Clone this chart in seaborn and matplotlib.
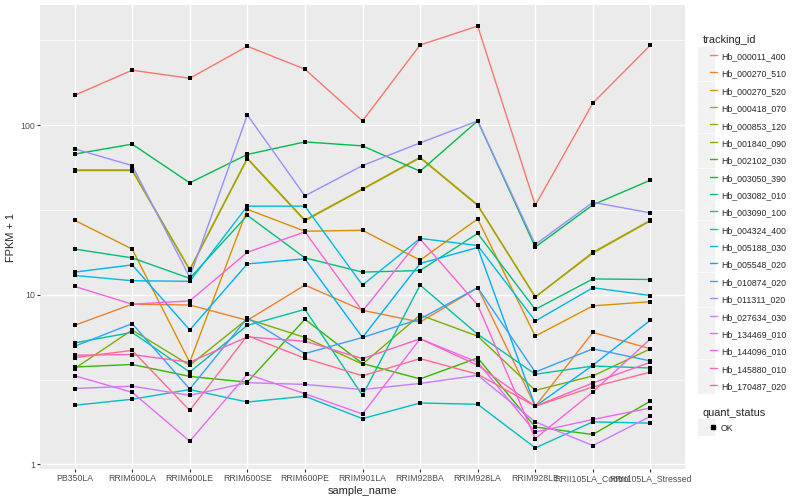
import numpy as np
import pandas as pd
import matplotlib
matplotlib.use("Agg")
import matplotlib.pyplot as plt
import seaborn as sns
from matplotlib.lines import Line2D
from matplotlib.legend_handler import HandlerTuple
from matplotlib.ticker import FixedLocator, NullFormatter

#--------------------------------------------------------------
# 1. Data (FPKM + 1)
#--------------------------------------------------------------
samples = ['PB350LA', 'RRIM600LA', 'RRIM600LE', 'RRIM600SE', 'RRIM600PE',
           'RRIM901LA', 'RRIM928BA', 'RRIM928LA', 'RRIM928LE',
           'RRII105LA_Control', 'RRII105LA_Stressed']

tracking_ids = ['Hb_000011_400', 'Hb_000270_510', 'Hb_000270_520', 'Hb_000418_070',
                'Hb_000853_120', 'Hb_001840_090', 'Hb_002102_030', 'Hb_003050_390',
                'Hb_003082_010', 'Hb_003090_100', 'Hb_004324_400', 'Hb_005188_030',
                'Hb_005548_020', 'Hb_010874_020', 'Hb_011311_020', 'Hb_027634_030',
                'Hb_134469_010', 'Hb_144096_010', 'Hb_145880_010', 'Hb_170487_020']

hb_000011_400 = [150, 211, 189, 292, 214, 106, 297, 384, 33.7, 135, 297]
hb_000270_510 = [6.6, 8.8, 8.7, 7.07, 11.4, 8.1, 6.9, 11.0, 2.2, 6.0, 4.8]
hb_000270_520 = [27.5, 18.6, 4.0, 31.9, 23.7, 24.0, 16.0, 28.0, 5.7, 8.6, 9.1]
hb_000418_070 = [54.5, 54.5, 14.1, 63.9, 27.6, 42.1, 64.7, 33.9, 9.7, 17.8, 27.5]
hb_000853_120 = [54.0, 54.0, 14.0, 63.3, 27.3, 41.8, 64.2, 33.6, 9.7, 17.6, 27.3]
hb_001840_090 = [3.67, 6.2, 3.84, 7.2, 5.6, 3.9, 7.6, 5.7, 2.73, 3.32, 4.8]
hb_002102_030 = [3.75, 3.88, 3.3, 3.05, 7.17, 3.93, 3.19, 4.24, 1.66, 1.5, 2.36]
hb_003050_390 = [67.5, 77.3, 45.7, 67.2, 79.7, 75.5, 53.5, 106, 19.1, 33.9, 47.4]
hb_003082_010 = [18.6, 16.5, 12.5, 29.4, 16.5, 13.6, 13.9, 23.0, 8.2, 12.4, 12.3]
hb_003090_100 = [5.2, 6.0, 3.5, 6.6, 8.2, 2.55, 11.4, 5.85, 3.4, 3.8, 3.7]
hb_004324_400 = [2.23, 2.42, 2.76, 2.33, 2.52, 1.86, 2.3, 2.26, 1.25, 1.78, 1.75]
hb_005188_030 = [13.0, 12.1, 12.0, 33.3, 33.3, 11.4, 21.5, 19.5, 7.0, 11.0, 9.9]
hb_005548_020 = [13.6, 15.0, 6.2, 15.2, 16.3, 5.6, 15.3, 19.0, 2.2, 3.84, 7.08]
hb_010874_020 = [4.97, 6.76, 2.78, 7.3, 4.5, 5.6, 7.2, 11.0, 3.5, 4.8, 4.07]
hb_011311_020 = [72.5, 57.8, 12.7, 115, 38.3, 57.8, 78.6, 106, 19.8, 35.1, 30.4]
hb_027634_030 = [2.8, 2.89, 2.55, 3.03, 2.96, 2.76, 3.0, 3.35, 1.78, 1.29, 1.92]
hb_134469_010 = [3.33, 2.66, 1.37, 3.4, 2.61, 1.98, 5.5, 4.0, 1.55, 1.84, 2.15]
hb_144096_010 = [11.2, 8.8, 9.2, 17.8, 23.5, 8.0, 21.3, 8.7, 1.42, 2.67, 5.5]
hb_145880_010 = [4.4, 4.44, 4.0, 5.64, 5.32, 4.2, 5.5, 3.84, 2.2, 3.02, 4.0]
hb_170487_020 = [4.26, 4.7, 2.08, 5.74, 4.22, 3.33, 4.2, 3.4, 2.2, 2.86, 3.5]

series = [hb_000011_400, hb_000270_510, hb_000270_520, hb_000418_070, hb_000853_120,
          hb_001840_090, hb_002102_030, hb_003050_390, hb_003082_010, hb_003090_100,
          hb_004324_400, hb_005188_030, hb_005548_020, hb_010874_020, hb_011311_020,
          hb_027634_030, hb_134469_010, hb_144096_010, hb_145880_010, hb_170487_020]

# ggplot2 default hue palette for 20 levels
gg_colors = ['#F8766D', '#EA8331', '#D89000', '#C09B00', '#A3A500', '#7CAE00',
             '#39B600', '#00BB4E', '#00BF7D', '#00C1A3', '#00BFC4', '#00BAE0',
             '#00B0F6', '#35A2FF', '#9590FF', '#C77CFF', '#E76BF3', '#FA62DB',
             '#FF62BC', '#FF6C91']

rows = []
for tid, vals in zip(tracking_ids, series):
    for s, v in zip(samples, vals):
        rows.append({'tracking_id': tid, 'sample_name': s, 'fpkm': v, 'quant_status': 'OK'})
df = pd.DataFrame(rows)

#--------------------------------------------------------------
# 2. Theme (ggplot2 theme_grey look)
#--------------------------------------------------------------
sns.set_theme(style="darkgrid", rc={
    'axes.facecolor': '#EBEBEB',
    'grid.color': 'white',
})
plt.rcParams['font.family'] = ['Liberation Sans', 'DejaVu Sans']

fig = plt.figure(figsize=(8, 5), dpi=100)
ax = fig.add_axes([40 / 800, 31 / 500, 645 / 800, 464 / 500])

#--------------------------------------------------------------
# 3. Lines + points
#--------------------------------------------------------------
sns.lineplot(data=df, x='sample_name', y='fpkm', hue='tracking_id',
             hue_order=tracking_ids, palette=gg_colors, sort=False,
             linewidth=1.0, legend=False, ax=ax, zorder=2)
sns.scatterplot(data=df, x='sample_name', y='fpkm', color='black', marker='s',
                s=8, linewidth=0, legend=False, ax=ax, zorder=3)

ax.set_yscale('log')
lo = np.log10(df['fpkm'].min())
hi = np.log10(df['fpkm'].max())
pad = 0.05 * (hi - lo)
ax.set_ylim(10 ** (lo - pad), 10 ** (hi + pad))
ax.set_xlim(-0.6, len(samples) - 0.4)

ax.yaxis.set_major_locator(FixedLocator([1, 10, 100]))
ax.set_yticklabels(['1', '10', '100'])
ax.yaxis.set_minor_locator(FixedLocator([10 ** 0.5, 10 ** 1.5, 10 ** 2.5]))
ax.yaxis.set_minor_formatter(NullFormatter())

ax.grid(which='major', color='white', linewidth=1.0)
ax.grid(which='minor', axis='y', color='white', linewidth=0.5)
ax.grid(which='minor', axis='x', visible=False)
for sp in ax.spines.values():
    sp.set_visible(False)

ax.tick_params(which='major', length=2, width=0.8, color='#333333',
               labelsize=6.3, labelcolor='#4D4D4D', pad=1.5,
               bottom=True, left=True)
ax.tick_params(which='minor', length=0)

ax.set_xlabel('sample_name', fontsize=7.9, labelpad=2)
ax.set_ylabel('FPKM + 1', fontsize=7.9, labelpad=3)

#--------------------------------------------------------------
# 4. Legends (grey key boxes like ggplot)
#--------------------------------------------------------------
key_bg = '#F2F2F2'


def key_box():
    return Line2D([], [], marker='s', markersize=11.3, color=key_bg,
                  markeredgecolor=key_bg, linestyle='none')


h1 = [(key_box(), Line2D([], [], color=c, linewidth=1.0)) for c in gg_colors]
leg1 = fig.legend(h1, tracking_ids, loc='upper left', bbox_to_anchor=(0.871, 0.943),
                  title='tracking_id', fontsize=6.3, title_fontsize=7.9,
                  frameon=False, handlelength=1.6, handleheight=1.6,
                  labelspacing=0.7, handletextpad=0.45, borderpad=0.2,
                  handler_map={tuple: HandlerTuple(ndivide=None, pad=0)},
                  alignment='left')

h2 = [(key_box(), Line2D([], [], color='black', marker='s', markersize=2.8,
                         linestyle='none'))]
leg2 = fig.legend(h2, ['OK'], loc='upper left', bbox_to_anchor=(0.871, 0.196),
                  title='quant_status', fontsize=6.3, title_fontsize=7.9,
                  frameon=False, handlelength=1.6, handleheight=1.6,
                  handletextpad=0.45, borderpad=0.2,
                  handler_map={tuple: HandlerTuple(ndivide=None, pad=0)},
                  alignment='left')

fig.savefig('out.png', dpi=100)
